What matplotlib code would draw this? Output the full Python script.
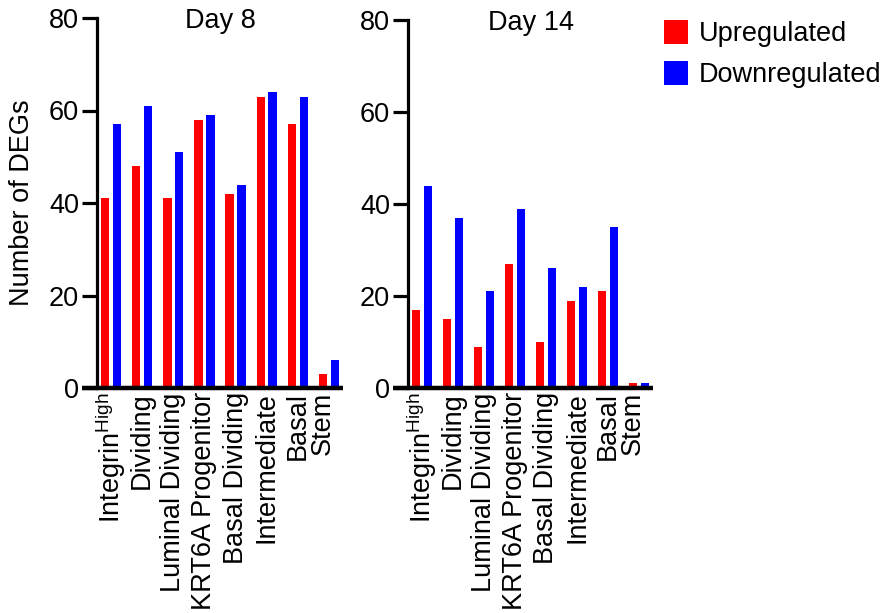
import matplotlib
matplotlib.use("Agg")
import matplotlib.pyplot as plt
import numpy as np

plt.rcParams['font.family'] = ['Liberation Sans', 'DejaVu Sans']
plt.rcParams['mathtext.fontset'] = 'custom'
plt.rcParams['mathtext.rm'] = 'Liberation Sans'
plt.rcParams['mathtext.it'] = 'Liberation Sans:italic'

cell_types = [r'Integrin$^{\mathrm{High}}$', 'Dividing', 'Luminal Dividing', 'KRT6A Progenitor',
              'Basal Dividing', 'Intermediate', 'Basal', 'Stem']

day8_up = [41, 48, 41, 58, 42, 63, 57, 3]
day8_down = [57, 61, 51, 59, 44, 64, 63, 6]
day14_up = [17, 15, 9, 27, 10, 19, 21, 1]
day14_down = [44, 37, 21, 39, 26, 22, 35, 1]

RED = '#FF0000'
BLUE = '#0000FF'
FS = 19.5
LW = 2.3

fig = plt.figure(figsize=(8.82, 6.13), dpi=100)
ax1 = fig.add_axes([97 / 882, 1 - 388 / 613, 246 / 882, 370 / 613])
ax2 = fig.add_axes([408 / 882, 1 - 388 / 613, 245 / 882, 368 / 613])


def draw_panel(ax, up, down, title):
    x = np.arange(len(cell_types))
    bu = ax.bar(x - 0.19, up, width=0.27, color=RED, label='Upregulated')
    bd = ax.bar(x + 0.19, down, width=0.27, color=BLUE, label='Downregulated')
    ax.set_xlim(-0.45, len(cell_types) - 0.55)
    ax.set_ylim(0, 80)
    ax.set_yticks([0, 20, 40, 60, 80])
    # last label sits a little left of its bars in the original
    tick_pos = x.astype(float)
    tick_pos[-1] -= 0.2
    ax.set_xticks(tick_pos)
    ax.set_xticklabels(cell_types, rotation=90, fontsize=FS)
    ax.tick_params(axis='x', length=0, pad=3)
    ax.tick_params(axis='y', length=11, width=LW, labelsize=FS, pad=2)
    for s in ['top', 'right', 'bottom']:
        ax.spines[s].set_visible(False)
    ax.spines['left'].set_linewidth(LW)
    # x axis line runs a tick-length past the y axis, as in the original
    ext = 15 / (ax.get_position().width * 882)
    ax.plot([-ext, 1], [0, 0], transform=ax.transAxes, color='black',
            lw=LW * 1.4, clip_on=False, solid_capstyle='butt', zorder=5)
    ax.text(0.5, 0.973, title, transform=ax.transAxes, ha='center',
            va='baseline', fontsize=FS)
    return bu, bd


draw_panel(ax1, day8_up, day8_down, 'Day 8')
bu, bd = draw_panel(ax2, day14_up, day14_down, 'Day 14')
ax1.set_ylabel('Number of DEGs', fontsize=FS, labelpad=10)

fig.legend(handles=[bu, bd], loc='upper left', bbox_to_anchor=(664 / 882, 1 - 20 / 613),
           frameon=False, fontsize=FS, handlelength=0.9, handleheight=1.0,
           handletextpad=0.4, labelspacing=0.5, borderpad=0, borderaxespad=0)

fig.savefig('out.png', dpi=100)
